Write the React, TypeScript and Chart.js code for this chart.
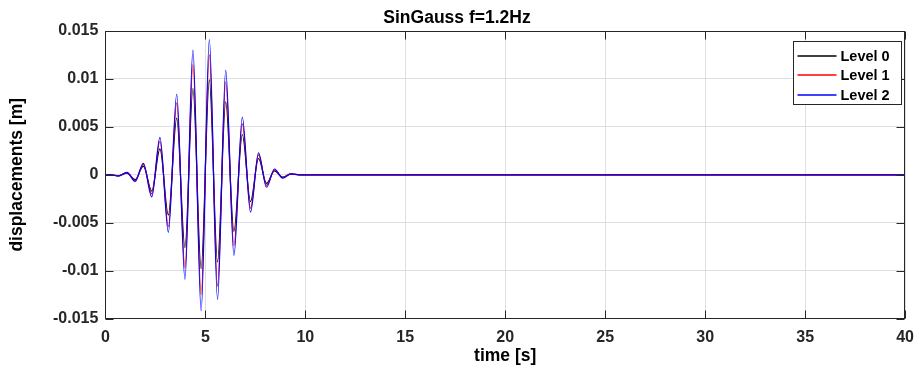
import React, { useEffect, useRef } from "react";
import { Chart, registerables } from "chart.js";

Chart.register(...registerables);

const TITLE = "SinGauss f=1.2Hz";
const X_LABEL = "time [s]";
const Y_LABEL = "displacements [m]";
const SERIES_NAMES = ["Level 0", "Level 1", "Level 2"];
const SERIES_COLORS = ["#000000", "#ff0000", "#0000ff"];

// time of each read extremum [s]
const TIME = [0, 0.3, 0.65, 1.08, 1.49, 1.9, 2.32, 2.73, 3.15, 3.57, 3.98, 4.38, 4.79, 5.2, 5.61, 6.02, 6.43, 6.85, 7.26, 7.66, 8.06, 8.46, 8.87, 9.28, 9.7, 10, 40];
const LEVEL0 = [0, 0, -0.0001, 0.00018, -0.0005, 0.0009, -0.0017, 0.0027, -0.0042, 0.0059, -0.0076, 0.009, -0.0098, 0.0099, -0.0091, 0.0076, -0.0059, 0.0042, -0.0028, 0.0017, -0.0009, 0.0004, -0.00025, 0.0001, 0, 0, 0];
const LEVEL1 = [0, 0, -0.00013, 0.00022, -0.0006, 0.0011, -0.002, 0.0035, -0.0054, 0.0075, -0.0097, 0.0115, -0.0125, 0.0125, -0.0116, 0.0097, -0.0074, 0.0053, -0.0035, 0.0021, -0.0011, 0.0005, -0.0003, 0.0001, 0, 0, 0];
const LEVEL2 = [0, 0, -0.00015, 0.00025, -0.0007, 0.0012, -0.0023, 0.0039, -0.006, 0.0084, -0.0109, 0.013, -0.0142, 0.0141, -0.013, 0.0109, -0.0084, 0.006, -0.0039, 0.0023, -0.0013, 0.0006, -0.00035, 0.0001, 0, 0, 0];

const X_TICKS = [0, 5, 10, 15, 20, 25, 30, 35, 40];
const Y_TICKS = [-0.015, -0.01, -0.005, 0, 0.005, 0.01, 0.015];

const FONT = '"Liberation Sans", Arial, Helvetica, sans-serif';
const AXIS_COLOR = "#262626";
const GRID_COLOR = "#dfdfdf";

const framePlugin = {
  id: "matlabFrame",
  afterDatasetsDraw(chart: any) {
    const { ctx, chartArea, scales } = chart;
    const { left, right, top, bottom } = chartArea;
    const xs = scales.x;
    const ys = scales.y;
    ctx.save();
    ctx.strokeStyle = AXIS_COLOR;
    ctx.lineWidth = 1;
    ctx.beginPath();
    const L = Math.round(left) + 0.5;
    const R = Math.round(right) - 0.5;
    const T = Math.round(top) + 0.5;
    const B = Math.round(bottom) - 0.5;
    xs.ticks.forEach((t: any) => {
      const px = Math.round(xs.getPixelForValue(t.value)) + 0.5;
      ctx.moveTo(px, B);
      ctx.lineTo(px, B - 8);
      ctx.moveTo(px, T);
      ctx.lineTo(px, T + 8);
    });
    ys.ticks.forEach((t: any) => {
      const py = Math.round(ys.getPixelForValue(t.value)) + 0.5;
      ctx.moveTo(L, py);
      ctx.lineTo(L + 8, py);
      ctx.moveTo(R, py);
      ctx.lineTo(R - 8, py);
    });
    ctx.stroke();
    ctx.strokeRect(L, T, R - L, B - T);

    // legend
    const boxW = 108;
    const boxH = 63;
    const bx = Math.round(right - 4 - boxW) + 0.5;
    const by = Math.round(top + 10) + 0.5;
    ctx.fillStyle = "#ffffff";
    ctx.fillRect(bx, by, boxW, boxH);
    ctx.strokeStyle = AXIS_COLOR;
    ctx.strokeRect(bx, by, boxW, boxH);
    ctx.font = `bold 14.5px ${FONT}`;
    ctx.textBaseline = "middle";
    ctx.textAlign = "left";
    SERIES_NAMES.forEach((name, i) => {
      const ry = Math.round(by + 14 + i * 19.5);
      ctx.beginPath();
      ctx.strokeStyle = SERIES_COLORS[i];
      ctx.lineWidth = 1.3;
      ctx.moveTo(bx + 4, ry);
      ctx.lineTo(bx + 43, ry);
      ctx.stroke();
      ctx.fillStyle = "#000000";
      ctx.fillText(name, bx + 47, ry + 1);
    });
    ctx.restore();
  },
};

function fmtY(v: number): string {
  const r = Number(v.toFixed(3));
  return r === 0 ? "0" : String(r);
}

export default function App() {
  const ref = useRef<HTMLCanvasElement | null>(null);

  useEffect(() => {
    if (!ref.current) return;
    const series = [LEVEL0, LEVEL1, LEVEL2];
    const chart = new Chart(ref.current, {
      type: "line",
      data: {
        datasets: series.map((vals, i) => ({
          label: SERIES_NAMES[i],
          data: TIME.map((t, k) => ({ x: t, y: vals[k] })),
          borderColor: SERIES_COLORS[i],
          backgroundColor: SERIES_COLORS[i],
          borderWidth: 1.2,
          pointRadius: 0,
          fill: false,
          cubicInterpolationMode: "monotone" as const,
          order: 2 - i,
        })),
      },
      options: {
        responsive: false,
        animation: false,
        layout: { padding: { left: 0, right: 0, top: 0, bottom: 0 } },
        plugins: {
          legend: { display: false },
          tooltip: { enabled: false },
          title: {
            display: true,
            text: TITLE,
            color: "#000000",
            font: { family: FONT, size: 17.5, weight: "bold" },
            padding: { top: 8, bottom: 2 },
          },
        },
        scales: {
          x: {
            type: "linear",
            min: 0,
            max: 40,
            afterBuildTicks: (scale: any) => {
              scale.ticks = X_TICKS.map((v) => ({ value: v }));
            },
            ticks: {
              color: AXIS_COLOR,
              padding: 0,
              maxRotation: 0,
              font: { family: FONT, size: 16, weight: "bold" },
              callback: (v: any) => String(v),
            },
            grid: { color: GRID_COLOR, drawTicks: true, tickLength: 9, tickColor: "rgba(0,0,0,0)" },
            border: { display: false },
            title: {
              display: true,
              text: X_LABEL,
              color: "#000000",
              font: { family: FONT, size: 17.5, weight: "bold", lineHeight: 1.1 },
              padding: { top: 0, bottom: 8 },
            },
          },
          y: {
            type: "linear",
            min: -0.015,
            max: 0.015,
            afterBuildTicks: (scale: any) => {
              scale.ticks = Y_TICKS.map((v) => ({ value: v }));
            },
            ticks: {
              color: AXIS_COLOR,
              padding: 0,
              font: { family: FONT, size: 16, weight: "bold" },
              callback: (v: any) => fmtY(Number(v)),
            },
            grid: { color: GRID_COLOR, drawTicks: true, tickLength: 7, tickColor: "rgba(0,0,0,0)" },
            border: { display: false },
            title: {
              display: true,
              text: Y_LABEL,
              color: "#000000",
              font: { family: FONT, size: 17.5, weight: "bold" },
              padding: { top: 7, bottom: 25 },
            },
          },
        },
      },
      plugins: [framePlugin],
    } as any);
    return () => chart.destroy();
  }, []);

  return (
    <div style={{ position: "absolute", left: 0, top: 0, width: 914, height: 374, background: "#ffffff" }}>
      <canvas ref={ref} width={914} height={374} style={{ display: "block", width: 914, height: 374 }} />
    </div>
  );
}
